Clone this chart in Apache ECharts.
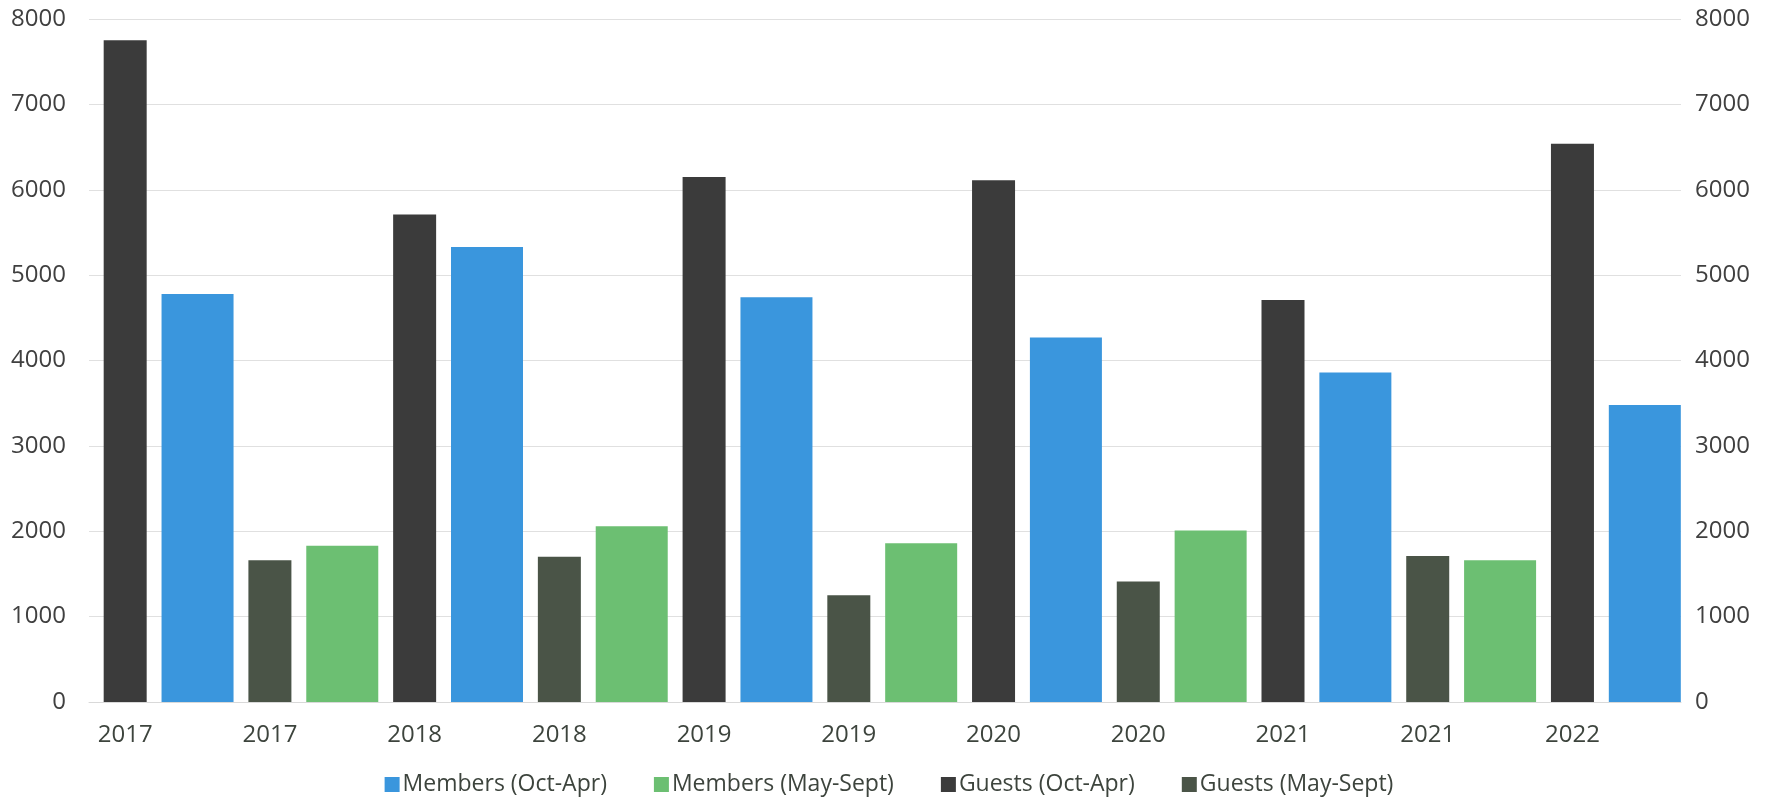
<!DOCTYPE html>
<html>
<head>
<meta charset="utf-8">
<script src="https://cdn.jsdelivr.net/npm/echarts@6/dist/echarts.min.js"></script>
<style>
html,body{margin:0;padding:0;background:#fff;}
#chart{width:1778px;height:804px;}
</style>
</head>
<body>
<div id="chart"></div>
<script>
// Category labels (one per season group)
var categories = ['2017','2017','2018','2018','2019','2019','2020','2020','2021','2021','2022'];
// Values per year (Oct-Apr seasons: 2017..2022, May-Sept seasons: 2017..2021)
var membersOctApr  = [4780, 5330, 4740, 4270, 3860, 3480];
var membersMaySept = [1830, 2060, 1860, 2010, 1660];
var guestsOctApr   = [7750, 5710, 6150, 6110, 4710, 6540];
var guestsMaySept  = [1660, 1700, 1250, 1410, 1710];
var yTicks = [0, 1000, 2000, 3000, 4000, 5000, 6000, 7000, 8000];

// Each category holds two slots: guests bar, then members bar
var slotLabels = [];
categories.forEach(function (c) { slotLabels.push(c, ''); });
function build(arr, isMembers, octApr) {
  var out = new Array(categories.length * 2).fill(null);
  arr.forEach(function (v, y) {
    var cat = octApr ? 2 * y : 2 * y + 1;
    out[2 * cat + (isMembers ? 1 : 0)] = v;
  });
  return out;
}

var font = "'Open Sans', 'Liberation Sans', sans-serif";
var plain = function (v) { return String(v); };
var chart = echarts.init(document.getElementById('chart'), null, {renderer: 'canvas'});
chart.setOption({
  animation: false,
  backgroundColor: '#ffffff',
  textStyle: {fontFamily: font},
  grid: {left: 89, right: 97, top: 19, bottom: 102, containLabel: false},
  legend: {
    bottom: 3, left: 'center',
    icon: 'rect', itemWidth: 15, itemHeight: 15, itemGap: 47,
    textStyle: {fontFamily: font, fontSize: 23, color: '#3d443d', padding: [0, 0, 0, -2]},
    data: ['Members (Oct-Apr)', 'Members (May-Sept)', 'Guests (Oct-Apr)', 'Guests (May-Sept)']
  },
  xAxis: [{
    type: 'category', data: slotLabels, boundaryGap: true,
    axisLine: {show: true, lineStyle: {color: '#d9d9d9', width: 1}},
    axisTick: {show: false},
    axisLabel: {interval: 0, margin: 21, fontSize: 24, color: '#3d443d', fontFamily: font}
  }, {
    type: 'category', data: slotLabels, boundaryGap: true, show: false
  }],
  yAxis: [{
    type: 'value', min: yTicks[0], max: yTicks[yTicks.length - 1], interval: 1000, position: 'left',
    axisLine: {show: false}, axisTick: {show: false},
    splitLine: {show: true, lineStyle: {color: '#e0e0e0', width: 1}},
    axisLabel: {margin: 23, fontSize: 24, color: '#404040', fontFamily: font, formatter: plain}
  }, {
    type: 'value', min: yTicks[0], max: yTicks[yTicks.length - 1], interval: 1000, position: 'right',
    axisLine: {show: false}, axisTick: {show: false}, splitLine: {show: false},
    axisLabel: {margin: 14, fontSize: 24, color: '#404040', fontFamily: font, formatter: plain}
  }],
  series: [{
    name: 'Members (Oct-Apr)', type: 'bar', xAxisIndex: 1, yAxisIndex: 1, stack: 'm', barWidth: 72,
    itemStyle: {color: '#3a96dd'}, data: build(membersOctApr, true, true)
  }, {
    name: 'Members (May-Sept)', type: 'bar', xAxisIndex: 1, yAxisIndex: 1, stack: 'm', barWidth: 72,
    itemStyle: {color: '#6cbf72'}, data: build(membersMaySept, true, false)
  }, {
    name: 'Guests (Oct-Apr)', type: 'bar', xAxisIndex: 0, yAxisIndex: 0, stack: 'g', barWidth: 43,
    itemStyle: {color: '#3b3b3b'}, data: build(guestsOctApr, false, true)
  }, {
    name: 'Guests (May-Sept)', type: 'bar', xAxisIndex: 0, yAxisIndex: 0, stack: 'g', barWidth: 43,
    itemStyle: {color: '#4a5447'}, data: build(guestsMaySept, false, false)
  }]
});
</script>
</body>
</html>
